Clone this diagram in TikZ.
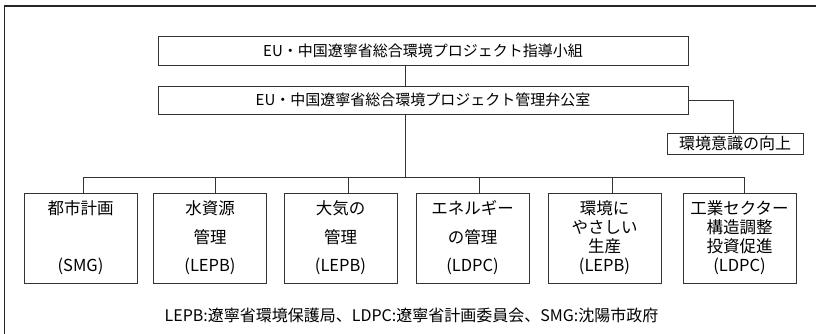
\documentclass[tikz,border=0pt]{standalone}
\usepackage{fontspec}
\setmainfont{Noto Sans CJK JP}
\usetikzlibrary{positioning}

\begin{document}
\begin{tikzpicture} [x=1pt,y=-1pt,{box/.style={rectangle,draw=black!80,line width=0.9pt,inner sep=0pt,align=center}},{unit/.style={box,minimum width=113pt,minimum height=90pt,font={\fontsize{16.5}{28.5}\selectfont}}},{unit4/.style={unit,font={\fontsize{16.5}{18.9}\selectfont}}},{linest/.style={draw=black!80,line width=0.9pt}}]
		\useasboundingbox (0,0) rectangle (816,334);
		%%frame
		\draw [line width=1.2pt,black!85] (4.7,334) -- (4.7,6) -- (816,6);
		%%top boxes
		\node at (423,50.5) [box,minimum width=530pt,minimum height=29pt,font={\fontsize{15}{18}\selectfont}] (guide) {EU・中国遼寧省総合環境プロジェクト指導小組};
		\node at (423,100) [box,minimum width=530pt,minimum height=28pt,font={\fontsize{15}{18}\selectfont}] (office) {EU・中国遼寧省総合環境プロジェクト管理弁公室};
		\node at (735,143.5) [box,minimum width=136pt,minimum height=21pt,font={\fontsize{16}{18}\selectfont}] (aware) {環境意識の向上};
		%%units
		\node at (80.5,238) [unit] (u1) {都市計画\\ \mbox{}\\(SMG)};
		\node at (210,238) [unit] (u2) {水資源\\管理\\(LEPB)};
		\node at (340.5,238) [unit] (u3) {大気の\\管理\\(LEPB)};
		\node at (472.5,238) [unit] (u4) {エネルギー\\の管理\\(LDPC)};
		\node at (604.5,238) [unit4] (u5) {環境に\\やさしい\\生産\\(LEPB)};
		\node at (739.5,238) [unit4] (u6) {工業セクター\\構造調整\\投資促進\\(LDPC)};
		%%note
		\node at (411.5,315) [font={\fontsize{16}{18}\selectfont}] (note) {LEPB:遼寧省環境保護局、LDPC:遼寧省計画委員会、SMG:沈陽市政府};
		%%connectors
		\coordinate (bus) at (405,177);
		\draw [linest] ([xshift=-18pt]guide.south) -- ([xshift=-18pt]office.north);
		\draw [linest] ([xshift=-18pt]office.south) -- (bus);
		\foreach \u/\s in {u1/2.5,u2/5,u3/7.5,u4/6.5,u5/7.5,u6/4.5}
			\draw [linest] (bus) -| ([xshift=\s pt]\u.north);
		\draw [linest] (office.east) -| ([xshift=-2pt]aware.north);
	\end{tikzpicture}
\end{document}
